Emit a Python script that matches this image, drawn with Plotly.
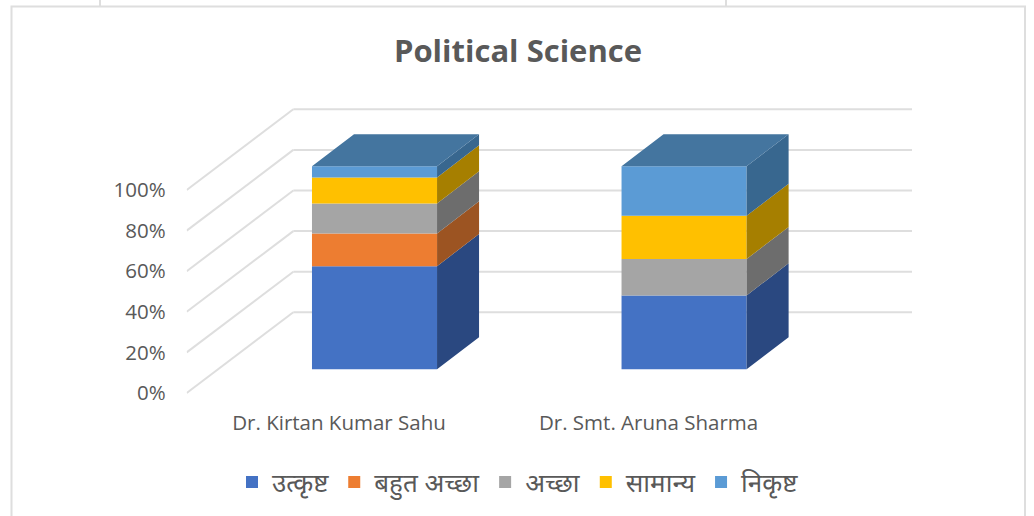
import plotly.graph_objects as go

title = "Political Science"
categories = ["Dr. Kirtan Kumar Sahu", "Dr. Smt. Aruna Sharma"]
series_names = ["उत्कृष्ट", "बहुत अच्छा", "अच्छा", "सामान्य", "निकृष्ट"]
excellent = [50.8, 36.4]
very_good = [16.1, 0.0]
good = [14.8, 17.9]
average = [12.8, 21.3]
poor = [5.5, 24.4]
series_values = [excellent, very_good, good, average, poor]
front_colors = ["#4472C4", "#ED7D31", "#A5A5A5", "#FFC000", "#5B9BD5"]
side_colors = ["#2A4880", "#9C5422", "#6D6D6D", "#A67F00", "#38678F"]
top_color = "#44759F"
y_ticks = [0, 20, 40, 60, 80, 100]
y_labels = ["0%", "20%", "40%", "60%", "80%", "100%"]

GREY = "#595959"
FONT = "Open Sans, Noto Sans, sans-serif"
W, H = 1034, 516
CANVAS_H = 600   # canvas runs past the window's lower edge, where the chart frame is cut

# projection, in axis units
bar_width = 0.404
shift_x, shift_y = 0.1147, 11.67      # front of bars vs. front of floor
depth_x, depth_y = 0.1357, 15.84      # depth of a bar
wall_x, wall_y = 0.3444, 39.75        # depth of the floor

fig = go.Figure()

bases = [[0.0] * len(categories)]
for vals in series_values:
    bases.append([b + v for b, v in zip(bases[-1], vals)])

# front faces
for k, name in enumerate(series_names):
    fig.add_trace(go.Bar(
        x=[i + shift_x for i in range(len(categories))],
        y=series_values[k],
        base=[b + shift_y for b in bases[k]],
        width=bar_width,
        name=name,
        marker=dict(color=front_colors[k], line=dict(width=0)),
        hoverinfo="skip",
    ))

# side faces
for k, name in enumerate(series_names):
    xs, ys = [], []
    for i in range(len(categories)):
        if series_values[k][i] <= 0:
            continue
        xr = i + shift_x + bar_width / 2
        lo = bases[k][i] + shift_y
        hi = bases[k + 1][i] + shift_y
        xs += [xr, xr + depth_x, xr + depth_x, xr, xr, None]
        ys += [lo, lo + depth_y, hi + depth_y, hi, lo, None]
    fig.add_trace(go.Scatter(
        x=xs, y=ys, mode="lines", fill="toself", fillcolor=side_colors[k],
        line=dict(width=0, color=side_colors[k]), showlegend=False, hoverinfo="skip",
    ))

# top faces
xs, ys = [], []
for i in range(len(categories)):
    xl = i + shift_x - bar_width / 2
    xr = i + shift_x + bar_width / 2
    t = bases[-1][i] + shift_y
    xs += [xl, xr, xr + depth_x, xl + depth_x, xl, None]
    ys += [t, t, t + depth_y, t + depth_y, t, None]
fig.add_trace(go.Scatter(
    x=xs, y=ys, mode="lines", fill="toself", fillcolor=top_color,
    line=dict(width=0, color=top_color), showlegend=False, hoverinfo="skip",
))

x_left, x_right = -0.492, 1.851
y_bottom, y_top = -1.0, 140.4

# wall gridlines, beneath the bars
shapes = []
grid = dict(color="#DEDEDE", width=2)
for t in y_ticks:
    shapes.append(dict(type="line", xref="x", yref="y", layer="below", line=grid,
                       x0=x_left, y0=t, x1=x_left + wall_x, y1=t + wall_y))
    shapes.append(dict(type="line", xref="x", yref="y", layer="below", line=grid,
                       x0=x_left + wall_x, y0=t + wall_y, x1=x_right, y1=t + wall_y))

# chart frame and the surrounding table rules
frame = dict(color="#DEDEDE", width=2)
def px(v): return v / W
def py(v): return 1 - v / H
shapes.append(dict(type="rect", xref="paper", yref="paper", layer="below", line=frame,
                   x0=px(11.5), x1=px(1025), y0=py(6.5), y1=py(560)))
for xv in (100, 726):
    shapes.append(dict(type="line", xref="paper", yref="paper", layer="below", line=frame,
                       x0=px(xv), x1=px(xv), y0=py(0), y1=py(6.5)))

fig.update_layout(
    width=W, height=CANVAS_H, autosize=False,
    margin=dict(l=0, r=0, t=0, b=CANVAS_H - H),
    paper_bgcolor="white", plot_bgcolor="rgba(0,0,0,0)",
    barmode="overlay",
    shapes=shapes,
    font=dict(family=FONT, color=GREY),
    title=dict(text="<b>" + title + "</b>", x=518 / W, xanchor="center",
               y=1 - 51 / CANVAS_H, yanchor="middle", font=dict(size=31, color=GREY, family=FONT)),
    xaxis=dict(domain=[px(186.7), px(912)], range=[x_left, x_right],
               tickmode="array", tickvals=list(range(len(categories))), ticktext=categories,
               showgrid=False, zeroline=False, showline=False, ticks="",
               ticklabelstandoff=13, tickfont=dict(size=20.5, color=GREY), fixedrange=True),
    yaxis=dict(domain=[py(395.03), py(108)], range=[y_bottom, y_top],
               tickmode="array", tickvals=y_ticks, ticktext=y_labels,
               showgrid=False, zeroline=False, showline=False, ticks="",
               ticklabelstandoff=20, tickfont=dict(size=20.5, color=GREY), fixedrange=True),
    legend=dict(orientation="h", x=518 / W, xanchor="center", y=py(482), yanchor="middle",
                font=dict(size=26, color=GREY, family="Noto Sans, " + FONT),
                itemwidth=30, bgcolor="rgba(0,0,0,0)", traceorder="normal"),
)

fig.write_html("out.html", config=dict(displayModeBar=False),
               post_script="document.body.style.margin='0';document.body.style.overflow='hidden';"
                           "document.documentElement.style.overflow='hidden';")
